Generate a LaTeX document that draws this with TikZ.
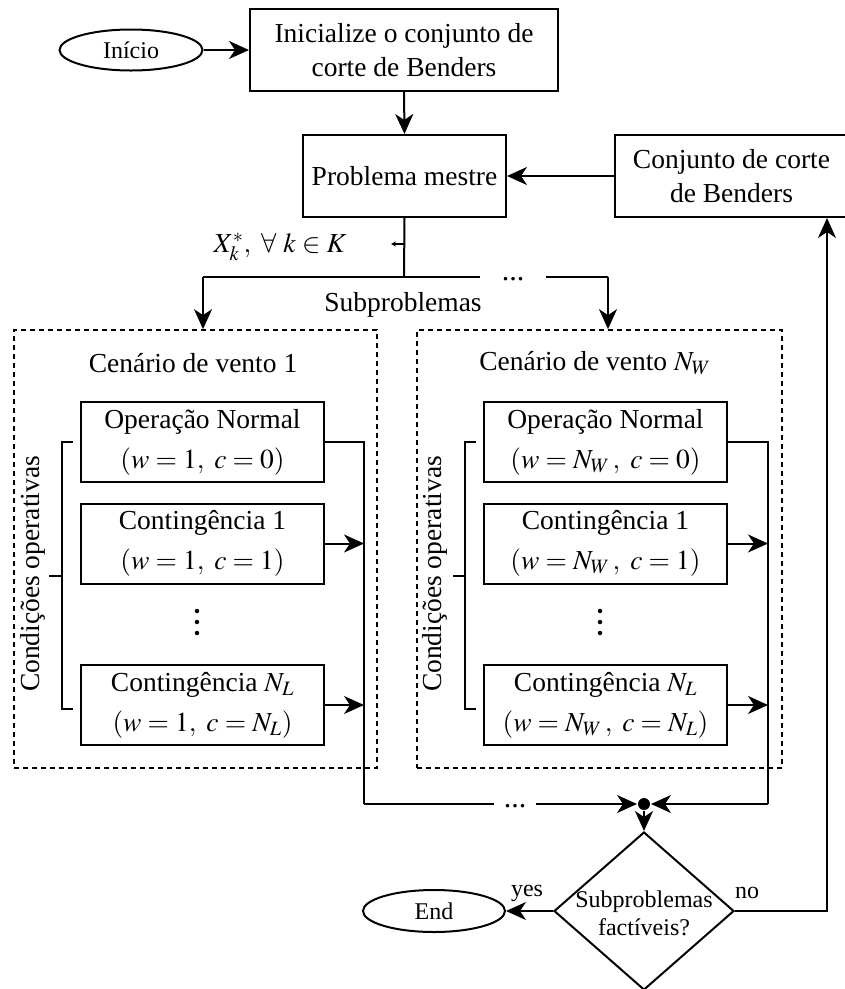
\documentclass[tikz,border=0pt]{standalone}
\usepackage{mathptmx}
\usepackage{fontspec}
\setmainfont{Liberation Serif}
\usetikzlibrary{shapes.geometric,arrows.meta}
\begin{document}
\begin{tikzpicture}[x=1pt,y=-1pt,
  font=\fontsize{27.5}{34}\selectfont,
  line width=2pt,
  arr/.style={-{Stealth[length=20pt,width=18pt,inset=6pt]}},
  box/.style={draw,rectangle,inner sep=0pt,align=center},
  sbox/.style={box,minimum width=243pt,minimum height=80pt,font=\fontsize{27.5}{40}\selectfont},
  term/.style={draw,ellipse,inner sep=0pt,font=\fontsize{24}{28}\selectfont},
  dbox/.style={draw,rectangle,inner sep=0pt,dash pattern=on 5pt off 4pt,line width=1.7pt},
  small/.style={font=\fontsize{24}{28}\selectfont},
  hd/.style={inner sep=0pt,anchor=base,font=\fontsize{30}{30}\selectfont},
  vdot/.style={circle,fill,inner sep=0pt,minimum size=4.5pt},
]
\useasboundingbox (0,0) rectangle (845,989);

% top
\node[term,minimum width=143pt,minimum height=41pt] (ini) at (131,50) {Início};
\node[box,minimum width=308pt,minimum height=82pt] (init) at (404,50) {Inicialize o conjunto de\\corte de Benders};
\node[box,minimum width=203pt,minimum height=82pt] (pm) at (404.5,176) {Problema mestre};
\node[box,minimum width=233pt,minimum height=82pt] (cj) at (731.5,176) {Conjunto de corte\\de Benders};

\draw[arr] (ini.east) -- (init.west);
\draw[arr] (init.south) -- (pm.north);
\draw[arr] (cj.west) -- (pm.east);

% split
\coordinate (sp) at (404,277);
\coordinate (spl) at (203,277);
\coordinate (spr) at (608,277);
\coordinate (gapl) at (480,277);
\coordinate (gapr) at (546,277);
\coordinate (tk) at (404,244);
\coordinate (tke) at (391,244);
\draw (pm.south) -- (sp);
\draw (spl) -- (gapl);
\draw (gapr) -- (spr);
\node[hd] (dotsT) at (513,280) {...};
\draw[-{Stealth[length=5pt,width=5pt]},line width=1.2pt] (tk) -- (tke);
\node (xl) at (280,247) {$X_k^*,\ \forall\ k \in K$};
\node (sub) at (403,305) {Subproblemas};

% dashed scenario boxes
\node[dbox,minimum width=363pt,minimum height=438pt] (L) at (195.5,549) {};
\node[dbox,minimum width=365pt,minimum height=438pt] (R) at (599.5,549) {};
\draw[arr] (spl) -- (spl |- L.north);
\draw[arr] (spr) -- (spr |- R.north);

\node (Lt) at (193,363) {Cenário de vento 1};
\node (Rt) at (595,363) {Cenário de vento $N_W$};

% left sub-boxes
\node[sbox] (l1) at (202.5,442) {Operação Normal\\$(w = 1,\ c = 0)$};
\node[sbox] (l2) at (202.5,543.5) {Contingência 1\\$(w = 1,\ c = 1)$};
\node[sbox] (l3) at (202.5,705) {Contingência $N_L$\\$(w = 1,\ c = N_L)$};
\node[vdot] (lv1) at (197,611) {};
\node[vdot] (lv2) at (197,622) {};
\node[vdot] (lv3) at (197,633) {};
% right sub-boxes
\node[sbox] (r1) at (605.5,442) {Operação Normal\\$(w = N_W\,,\ c = 0)$};
\node[sbox] (r2) at (605.5,543.5) {Contingência 1\\$(w = N_W\,,\ c = 1)$};
\node[sbox] (r3) at (605.5,705) {Contingência $N_L$\\$(w = N_W\,,\ c = N_L)$};
\node[vdot] (rv1) at (600,611) {};
\node[vdot] (rv2) at (600,622) {};
\node[vdot] (rv3) at (600,633) {};

% brackets and side labels
\draw (73,442) -- (62,442) -- (62,709) -- (73,709);
\draw (49,576) -- (62,576);
\node[rotate=90] (lc) at (33,574) {Condições operativas};
\draw (476,442) -- (465,442) -- (465,709) -- (476,709);
\draw (453,576) -- (465,576);
\node[rotate=90] (rc) at (435,574) {Condições operativas};

% collectors
\coordinate (lc1) at (364,442);
\coordinate (lcb) at (364,804);
\coordinate (rc1) at (768,442);
\coordinate (rcb) at (768,804);
\node[circle,fill,inner sep=0pt,minimum size=12pt] (dot) at (644,804) {};
\draw (l1.east) -- (lc1) -- (lcb);
\draw[arr] (l2.east) -- (l2.east -| lc1);
\draw[arr] (l3.east) -- (l3.east -| lc1);
\draw (r1.east) -- (rc1) -- (rcb);
\draw[arr] (r2.east) -- (r2.east -| rc1);
\draw[arr] (r3.east) -- (r3.east -| rc1);

\coordinate (bgl) at (494,804);
\coordinate (bgr) at (536,804);
\draw (lcb) -- (bgl);
\node[hd] (dotsB) at (515,807) {...};
\draw[arr] (bgr) -- (dot);
\draw[arr] (rcb) -- (dot);

% decision
\node[draw,diamond,minimum width=180pt,minimum height=158pt,inner sep=0pt] (dia) at (644,911) {};
\node[small,align=center] (dt) at (644,913) {Subproblemas\\factíveis?};
\draw[arr] (dot) -- (dia.north);
\node[term,minimum width=142pt,minimum height=42pt] (end) at (434,911) {End};
\draw[arr] (dia.west) -- (end.east);
\node[small] (yes) at (527,893) {yes};
\node[small] (no) at (747,893) {no};
\coordinate (fb) at (827,911);
\draw[arr] (dia.east) -- (fb) -- (fb |- cj.south);
\end{tikzpicture}
\end{document}
